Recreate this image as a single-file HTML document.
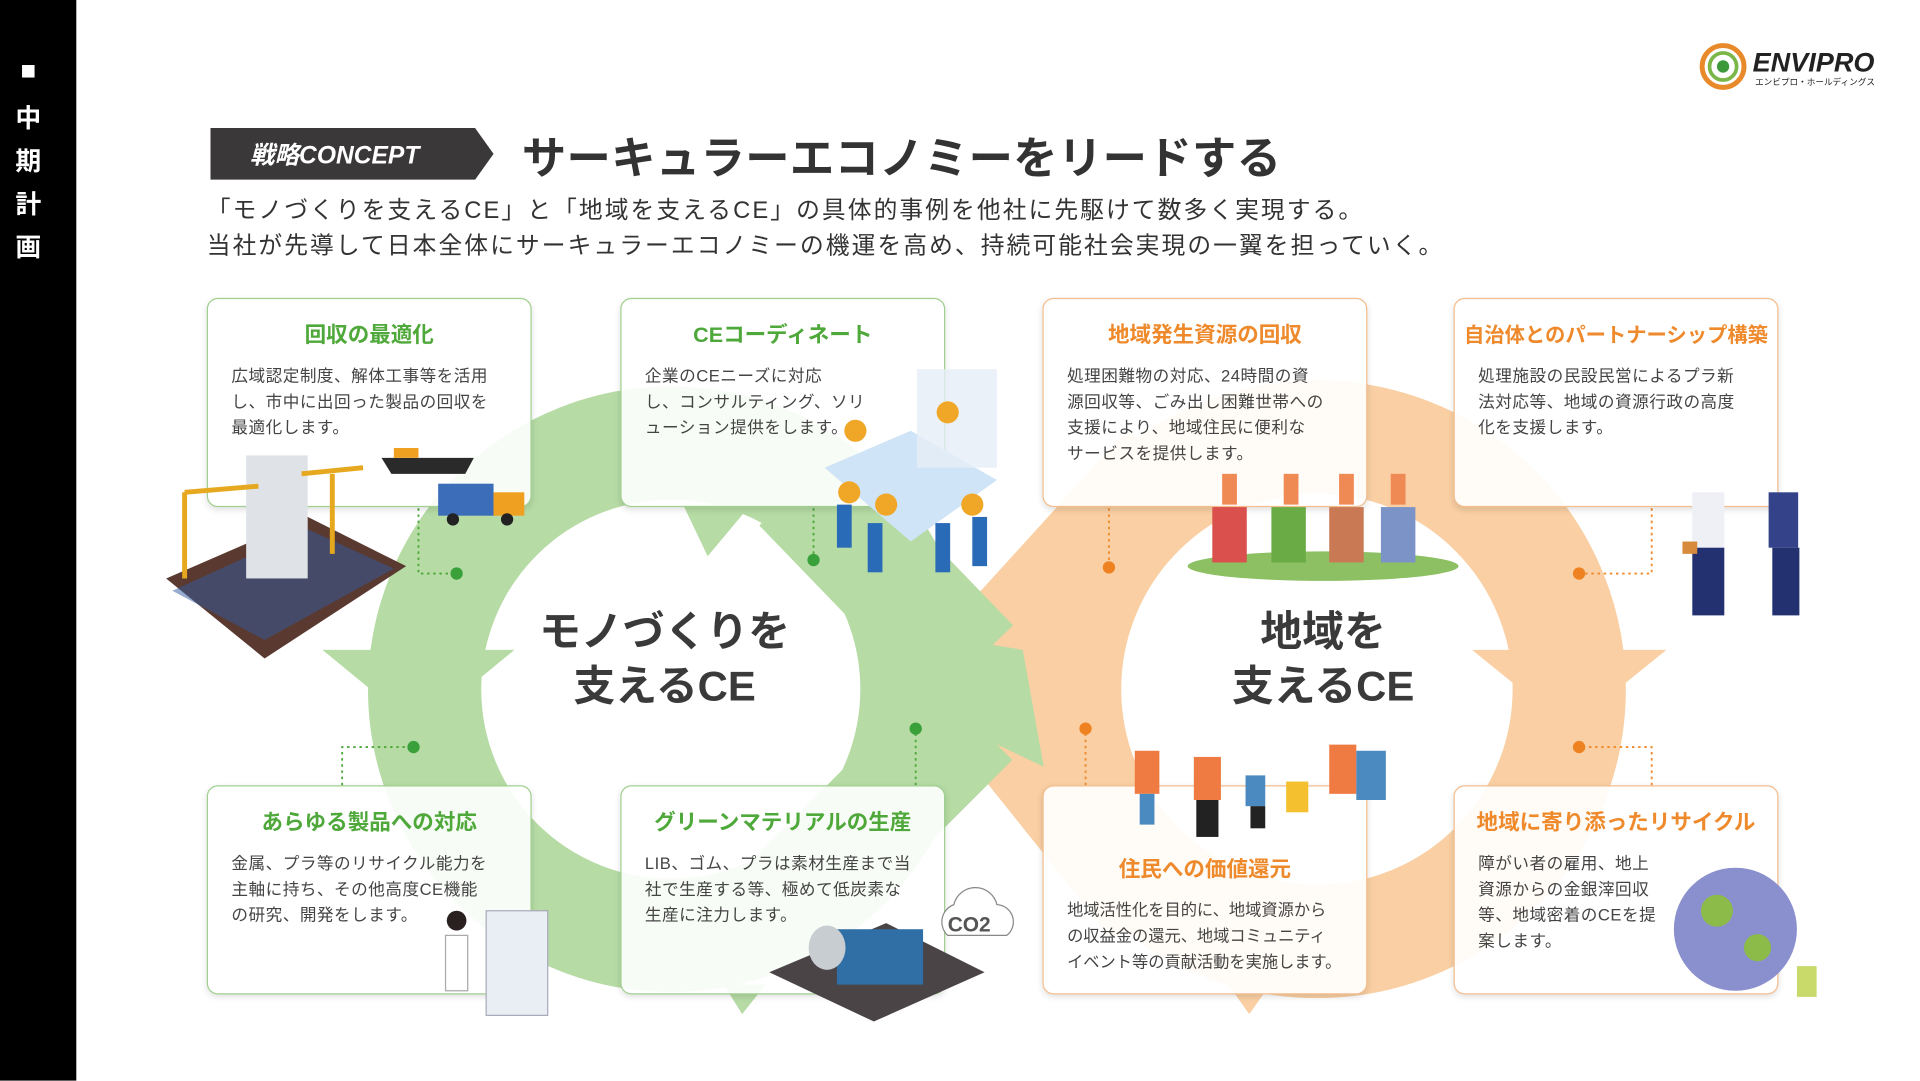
<!DOCTYPE html>
<html><head><meta charset="utf-8">
<style>
html,body{margin:0;padding:0;width:1920px;height:1080px;overflow:hidden;background:#fff;}
#w{position:absolute;left:0;top:0;width:1560px;height:877.5px;transform:scale(1.230769);transform-origin:0 0;font-family:"Liberation Sans","Noto Sans CJK JP",sans-serif;color:#333;}
.side{position:absolute;left:0;top:0;width:62px;height:878px;background:#000;color:#fff;font-weight:bold;font-size:21px;text-align:center;}
.side div{position:absolute;left:0;width:46px;}
.abs{position:absolute;}
.box{position:absolute;width:264px;height:170px;border-radius:9px;background:rgba(255,255,255,0.9);box-shadow:0 2px 5px rgba(0,0,0,0.12);box-sizing:border-box;}
.g{border:1.5px solid #9fd08f;}
.o{border:1.5px solid #f3bd8c;}
.box h3{margin:0;position:absolute;left:0;right:0;top:16px;text-align:center;font-size:17.5px;font-weight:bold;}
.g h3{color:#4ea83a;}
.o h3{color:#ef8a2c;}
.box p{margin:0;position:absolute;left:19px;top:52px;font-size:13.5px;line-height:21px;letter-spacing:0.4px;color:#444;white-space:nowrap;}
.center{position:absolute;font-size:34px;font-weight:bold;text-align:center;line-height:44px;color:#3a3a3a;}
</style></head><body><div id="w">
<div class="side">
<div style="top:46px">■</div><div style="top:80px">中</div><div style="top:115px">期</div><div style="top:150px">計</div><div style="top:185px">画</div>
</div>
<svg class="abs" style="left:1380px;top:34px" width="152" height="40" viewBox="0 0 152 40">
<circle cx="20" cy="20" r="17" fill="none" stroke="#e8892a" stroke-width="4"/>
<circle cx="20" cy="20" r="11" fill="none" stroke="#7ab648" stroke-width="3"/>
<circle cx="20" cy="20" r="5" fill="#3c9a3c"/>
<text x="44" y="24" font-family="Liberation Sans" font-weight="bold" font-style="italic" font-size="22" fill="#222">ENVIPRO</text>
<text x="46" y="35" font-family="Noto Sans CJK JP" font-size="7" fill="#222">エンビプロ・ホールディングス</text>
</svg>
<svg class="abs" style="left:171px;top:104px" width="232" height="42"><polygon points="0,0 215,0 230,21 215,42 0,42" fill="#3a3838"/>
<text x="32" y="29" font-family="Liberation Sans,Noto Sans CJK JP" font-style="italic" font-weight="bold" font-size="20" fill="#fff">戦略CONCEPT</text></svg>
<div class="abs" style="left:424px;top:100px;font-size:36px;font-weight:bold;color:#333;letter-spacing:0.3px;">サーキュラーエコノミーをリードする</div>
<div class="abs" style="left:168px;top:157px;font-size:19.3px;line-height:29px;color:#333;white-space:nowrap;letter-spacing:1.7px;">「モノづくりを支えるCE」と「地域を支えるCE」の具体的事例を他社に先駆けて数多く実現する。<br>当社が先導して日本全体にサーキュラーエコノミーの機運を高め、持続可能社会実現の一翼を担っていく。</div>

<svg class="abs" style="left:0;top:0" width="1560" height="878" viewBox="0 0 1560 878">
<circle cx="545" cy="560" r="200" fill="none" stroke="#b6dba4" stroke-width="92"/>
<circle cx="1070" cy="560" r="205" fill="none" stroke="#f9cfa3" stroke-width="92"/>
<!-- crossing bands -->
<line x1="950" y1="380" x2="800" y2="545" stroke="#f9cfa3" stroke-width="92"/>
<line x1="800" y1="560" x2="940" y2="735" stroke="#f9cfa3" stroke-width="92"/>
<line x1="650" y1="395" x2="790" y2="540" stroke="#b6dba4" stroke-width="92"/>
<line x1="640" y1="735" x2="790" y2="585" stroke="#b6dba4" stroke-width="92"/>
<polygon points="739,513 831,528 848,623 800,600 760,560" fill="#b6dba4"/>
<polygon points="262,528 418,528 340,592" fill="#b6dba4"/>
<polygon points="555,410 610,410 575,452" fill="#b6dba4"/>
<polygon points="588,800 622,800 603,824" fill="#b6dba4"/>
<polygon points="1196,528 1354,528 1275,592" fill="#f9cfa3"/>
<polygon points="998,800 1032,800 1015,824" fill="#f9cfa3"/>
<g fill="none" stroke-width="1.5" stroke-dasharray="2,3">
<path d="M340 413 V466 H371" stroke="#4ea83a"/>
<path d="M661 413 V455" stroke="#4ea83a"/>
<path d="M278 638 V607 H336" stroke="#4ea83a"/>
<path d="M744 638 V592" stroke="#4ea83a"/>
<path d="M901 413 V461" stroke="#ef8a2c"/>
<path d="M1342 413 V466 H1283" stroke="#ef8a2c"/>
<path d="M882 638 V592" stroke="#ef8a2c"/>
<path d="M1342 638 V607 H1283" stroke="#ef8a2c"/>
</g>
<g fill="#3aa03a"><circle cx="371" cy="466" r="5"/><circle cx="661" cy="455" r="5"/><circle cx="336" cy="607" r="5"/><circle cx="744" cy="592" r="5"/></g>
<g fill="#ee8220"><circle cx="901" cy="461" r="5"/><circle cx="1283" cy="466" r="5"/><circle cx="882" cy="592" r="5"/><circle cx="1283" cy="607" r="5"/></g>
</svg>

<div class="center" style="left:420px;top:492px;width:240px;">モノづくりを<br>支えるCE</div>
<div class="center" style="left:955px;top:492px;width:240px;">地域を<br>支えるCE</div>

<div class="box g" style="left:168px;top:242px"><h3>回収の最適化</h3><p>広域認定制度、解体工事等を活用<br>し、市中に出回った製品の回収を<br>最適化します。</p></div>
<div class="box g" style="left:504px;top:242px"><h3>CEコーディネート</h3><p>企業のCEニーズに対応<br>し、コンサルティング、ソリ<br>ューション提供をします。</p></div>
<div class="box o" style="left:847px;top:242px"><h3>地域発生資源の回収</h3><p>処理困難物の対応、24時間の資<br>源回収等、ごみ出し困難世帯への<br>支援により、地域住民に便利な<br>サービスを提供します。</p></div>
<div class="box o" style="left:1181px;top:242px"><h3 style="font-size:16.5px">自治体とのパートナーシップ構築</h3><p>処理施設の民設民営によるプラ新<br>法対応等、地域の資源行政の高度<br>化を支援します。</p></div>
<div class="box g" style="left:168px;top:638px"><h3>あらゆる製品への対応</h3><p>金属、プラ等のリサイクル能力を<br>主軸に持ち、その他高度CE機能<br>の研究、開発をします。</p></div>
<div class="box g" style="left:504px;top:638px"><h3>グリーンマテリアルの生産</h3><p>LIB、ゴム、プラは素材生産まで当<br>社で生産する等、極めて低炭素な<br>生産に注力します。</p></div>
<div class="box o" style="left:847px;top:638px"><h3 style="top:54px">住民への価値還元</h3><p style="top:90px;letter-spacing:0;font-size:13.2px">地域活性化を目的に、地域資源から<br>の収益金の還元、地域コミュニティ<br>イベント等の貢献活動を実施します。</p></div>
<div class="box o" style="left:1181px;top:638px"><h3>地域に寄り添ったリサイクル</h3><p>障がい者の雇用、地上<br>資源からの金銀滓回収<br>等、地域密着のCEを提<br>案します。</p></div>

<svg class="abs" style="left:0;top:0" width="1560" height="878" viewBox="0 0 1560 878">
<polygon points="135,470 250,420 330,460 215,535" fill="#5a3a30"/>
<polygon points="140,480 250,430 320,462 215,520" fill="#2f5aa0" opacity="0.5"/>
<rect x="200" y="370" width="50" height="100" fill="#dfe3e8"/>
<path d="M150 400 L210 395 M150 400 V470 M245 385 L295 380 M270 385 V450" stroke="#e6a81e" stroke-width="4"/>
<polygon points="310,372 385,372 378,385 318,385" fill="#2a2a2a"/><rect x="320" y="364" width="20" height="8" fill="#f0a020"/>
<rect x="356" y="393" width="45" height="26" fill="#3c6db8"/><rect x="401" y="400" width="25" height="19" fill="#f0a020"/>
<circle cx="368" cy="422" r="5" fill="#222"/><circle cx="412" cy="422" r="5" fill="#222"/>
<polygon points="670,380 740,350 810,390 740,440" fill="#cfe4f6"/>
<rect x="745" y="300" width="65" height="80" fill="#e6eef8" opacity="0.8"/>
<g fill="#f0a727"><circle cx="695" cy="350" r="9"/><circle cx="770" cy="335" r="9"/><circle cx="690" cy="400" r="9"/><circle cx="720" cy="410" r="9"/><circle cx="790" cy="410" r="9"/></g>
<g fill="#2a6bb8"><rect x="680" y="410" width="12" height="35"/><rect x="705" y="425" width="12" height="40"/><rect x="760" y="425" width="12" height="40"/><rect x="790" y="420" width="12" height="40"/></g>
<polygon points="625,790 720,750 800,790 710,830" fill="#4a4446"/>
<rect x="680" y="755" width="70" height="45" fill="#2f6fa5"/>
<ellipse cx="672" cy="770" rx="15" ry="18" fill="#c8cdd2"/>
<path d="M770 760 a15 15 0 0 1 5-25 a18 18 0 0 1 35 0 a14 14 0 0 1 8 25 Z" fill="#fff" stroke="#888"/>
<text x="770" y="757" font-size="17" font-weight="bold" fill="#555" font-family="Liberation Sans">CO2</text>
<rect x="395" y="740" width="50" height="85" fill="#e9eef5" stroke="#aab"/>
<rect x="362" y="760" width="18" height="45" fill="#fff" stroke="#aaa"/><circle cx="371" cy="748" r="8" fill="#2a2020"/>
<ellipse cx="1075" cy="460" rx="110" ry="12" fill="#8cc063"/>
<rect x="985" y="412" width="28" height="45" fill="#d9504c"/><rect x="1033" y="412" width="28" height="45" fill="#6bab45"/>
<rect x="1080" y="412" width="28" height="45" fill="#c97a55"/><rect x="1122" y="412" width="28" height="45" fill="#7c93c8"/>
<g fill="#f08a55"><rect x="993" y="385" width="12" height="25"/><rect x="1043" y="385" width="12" height="25"/><rect x="1088" y="385" width="12" height="25"/><rect x="1130" y="385" width="12" height="25"/></g>
<rect x="1375" y="400" width="26" height="45" fill="#eef0f6"/><rect x="1375" y="445" width="26" height="55" fill="#243170"/>
<rect x="1437" y="400" width="24" height="45" fill="#34428a"/><rect x="1440" y="445" width="22" height="55" fill="#243170"/>
<rect x="1367" y="440" width="12" height="10" fill="#d88a3c"/>
<g fill="#ef7b43"><rect x="922" y="610" width="20" height="35"/><rect x="970" y="615" width="22" height="35"/><rect x="1080" y="605" width="22" height="40"/></g>
<g fill="#4b8ac0"><rect x="926" y="645" width="12" height="25"/><rect x="1012" y="630" width="16" height="25"/><rect x="1102" y="610" width="24" height="40"/></g>
<g fill="#222"><rect x="972" y="650" width="18" height="30"/><rect x="1016" y="655" width="12" height="18"/></g>
<rect x="1045" y="635" width="18" height="25" fill="#f4c030"/>
<circle cx="1410" cy="755" r="50" fill="#8a8fce"/>
<g fill="#8cbb4a"><circle cx="1395" cy="740" r="13"/><circle cx="1428" cy="770" r="11"/></g>
<rect x="1460" y="785" width="16" height="25" fill="#c9d96a"/>
</svg>
</div></body></html>
